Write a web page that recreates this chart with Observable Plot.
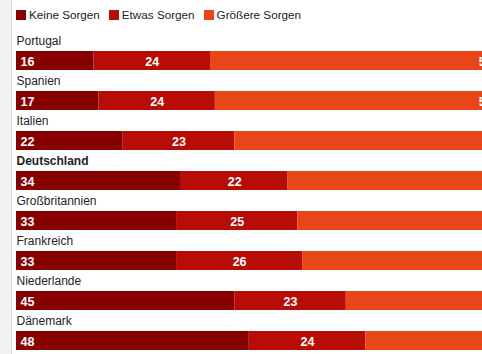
<!DOCTYPE html>
<html>
<head>
<meta charset="utf-8">
<script src="https://cdn.jsdelivr.net/npm/d3@7"></script>
<script src="https://cdn.jsdelivr.net/npm/@observablehq/plot@0.6"></script>
<style>
  html, body { margin: 0; padding: 0; background: #fff; overflow: hidden; width: 482px; height: 354px; }
  #strip { position: absolute; left: 0; top: 0; width: 11px; height: 354px; background: #f1f1f1; border-right: 1px solid #dcdcdc; }
  #wrap { position: absolute; left: 0; top: 0; width: 560px; height: 354px; }
  #legend { position: absolute; left: 16px; top: 8px; display: flex; align-items: center;
            font-family: 'Liberation Sans', Arial, sans-serif; font-size: 11.7px; color: #222; line-height: 14px; white-space: nowrap; }
  #legend .item { display: flex; align-items: center; margin-right: 9px; }
  #legend .sw { width: 10px; height: 10px; margin-right: 3px; }
  #chart { position: absolute; left: 0; top: 0; }
  svg { max-width: none !important; }
</style>
</head>
<body>
<div id="strip"></div>
<div id="wrap">
  <div id="chart"></div>
  <div id="legend"></div>
</div>
<script>
const countries = ["Portugal", "Spanien", "Italien", "Deutschland", "Großbritannien", "Frankreich", "Niederlande", "Dänemark"];
const categories = ["Keine Sorgen", "Etwas Sorgen", "Größere Sorgen"];
const colors = ["#870000", "#b80d07", "#e84518"];
const keine = [16, 17, 22, 34, 33, 33, 45, 48];
const etwas = [24, 24, 23, 22, 25, 26, 23, 24];
const groessere = [59, 58, 55, 44, 42, 41, 32, 28];
const highlight = "Deutschland";

const series = [keine, etwas, groessere];
const data = [];
countries.forEach((c, i) => {
  let x1 = 0;
  series.forEach((s, k) => {
    const v = s[i];
    data.push({country: c, cat: categories[k], k, value: v, x1, x2: x1 + v});
    x1 += v;
  });
});

const font = "'Liberation Sans', Arial, sans-serif";
const labelOpts = {y: d => d, x: 0, text: d => d, textAnchor: "start", dy: -19.5, fill: "#222", fontSize: 12};

const chart = Plot.plot({
  width: 560,
  height: 354,
  marginLeft: 16,
  marginRight: 59,
  marginTop: 51,
  marginBottom: 1.2,
  style: {fontFamily: font, background: "transparent", maxWidth: "none"},
  x: {domain: [0, 100], axis: null},
  y: {domain: countries, axis: null, paddingInner: 0.516, paddingOuter: 0, align: 0},
  color: {domain: categories, range: colors},
  marks: [
    Plot.barX(data, {y: "country", x1: "x1", x2: "x2", fill: "cat"}),
    Plot.text(data.filter(d => d.k === 0), {
      y: "country", x: "x1", text: d => String(d.value), textAnchor: "start", dx: 4, dy: 1,
      fill: "white", fontWeight: "bold", fontSize: 12.5
    }),
    Plot.text(data.filter(d => d.k === 1), {
      y: "country", x: d => (d.x1 + d.x2) / 2, text: d => String(d.value), dy: 1,
      fill: "white", fontWeight: "bold", fontSize: 12.5
    }),
    Plot.text(data.filter(d => d.k === 2), {
      y: "country", x: "x2", text: d => String(d.value), textAnchor: "end", dx: -4, dy: 1,
      fill: "white", fontWeight: "bold", fontSize: 12.5
    }),
    Plot.text(countries.filter(c => c !== highlight), {...labelOpts, fontWeight: "normal"}),
    Plot.text(countries.filter(c => c === highlight), {...labelOpts, fontWeight: "bold"})
  ]
});
document.getElementById("chart").appendChild(chart);

// legend built from the same color scale
const scale = chart.scale("color");
const legend = d3.select("#legend");
scale.domain.forEach((cat, i) => {
  const item = legend.append("div").attr("class", "item");
  item.append("div").attr("class", "sw").style("background", scale.range[i]);
  item.append("span").text(cat);
});
</script>
</body>
</html>
